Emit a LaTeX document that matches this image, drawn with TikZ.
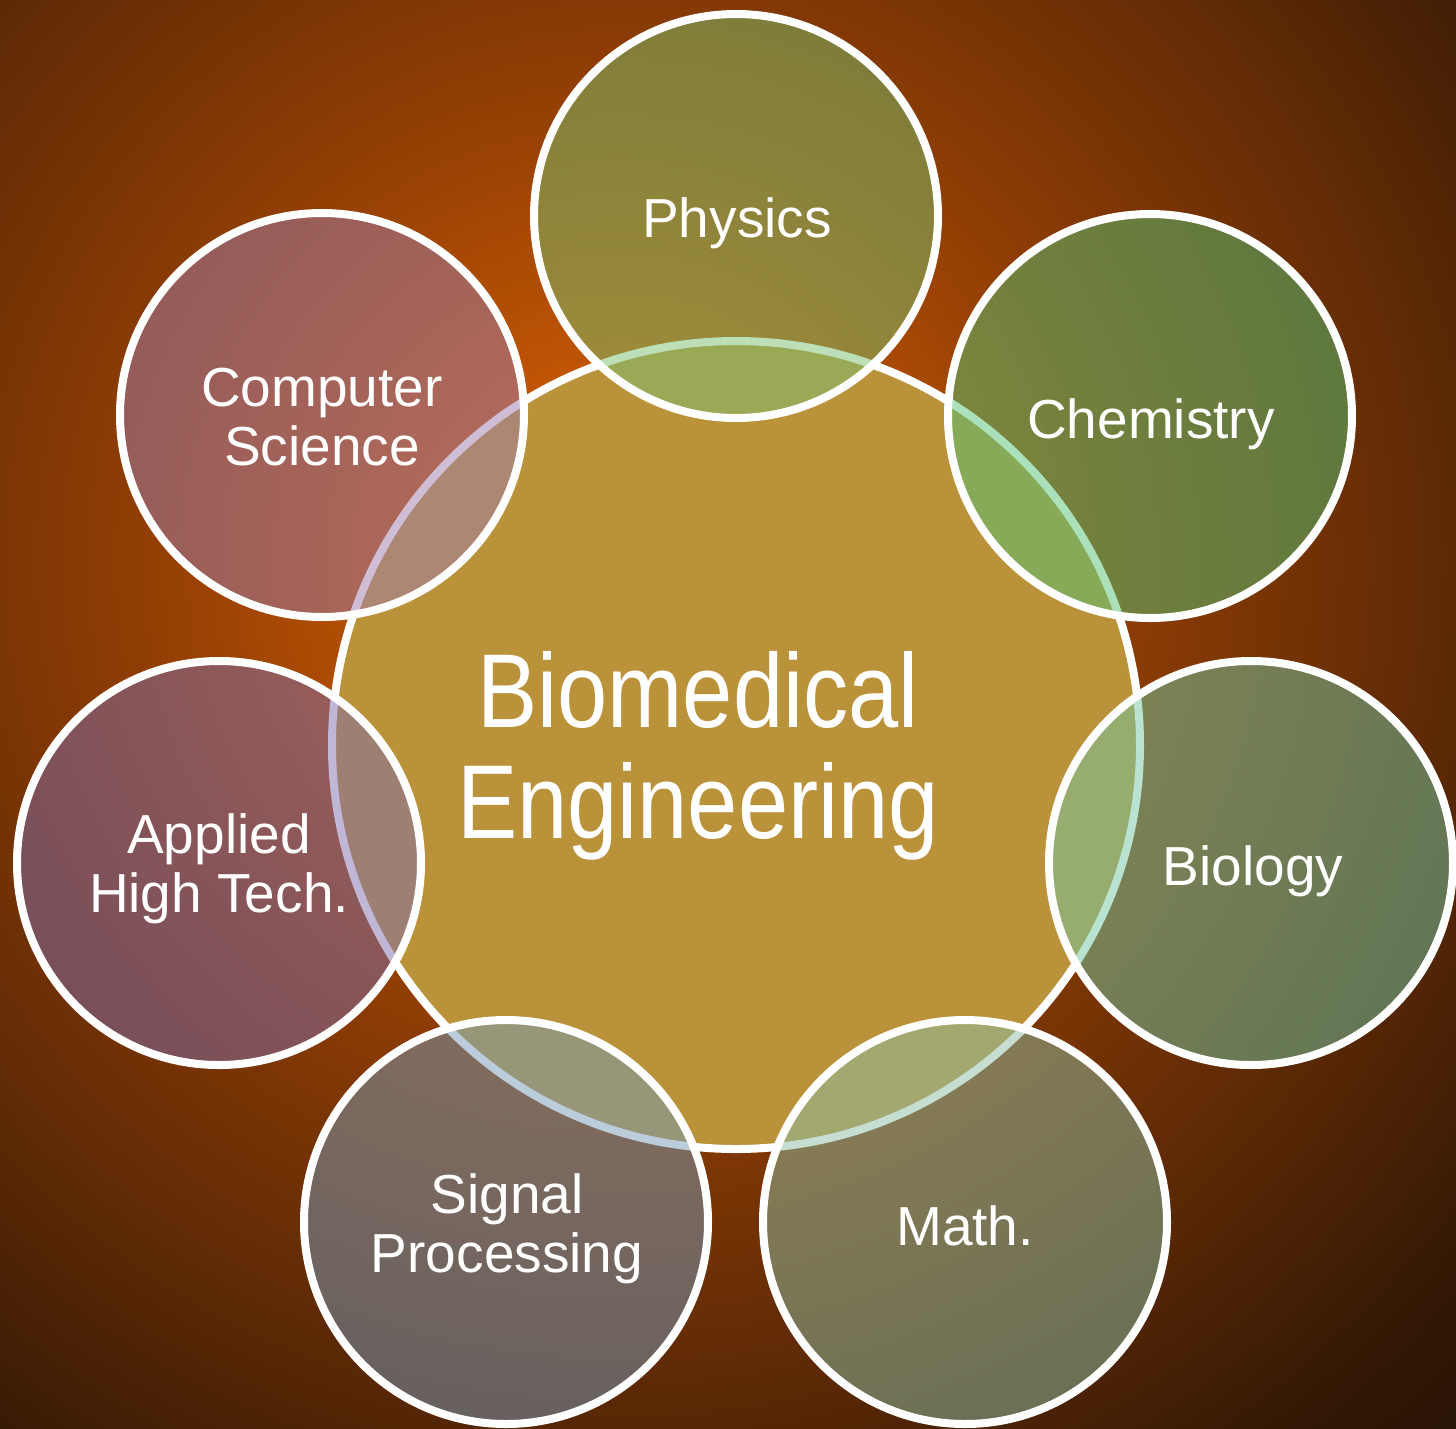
\documentclass[tikz,border=0pt]{standalone}
\usepackage{fontspec}
\setmainfont{Liberation Sans}
\usepackage{graphicx}
\definecolor{bgdark}{RGB}{35,17,4}
\definecolor{glowA}{RGB}{205,92,5}
\definecolor{glowB}{RGB}{190,84,4}
\definecolor{glowC}{RGB}{145,62,4}
\definecolor{glowD}{RGB}{90,40,5}
\definecolor{glowE}{RGB}{50,24,5}
\definecolor{bmefill}{RGB}{186,146,57}
\definecolor{physF}{RGB}{123,193,113}
\definecolor{chemF}{RGB}{86,195,119}
\definecolor{bioF}{RGB}{115,200,165}
\definecolor{mathF}{RGB}{140,190,165}
\definecolor{sigF}{RGB}{120,155,185}
\definecolor{applF}{RGB}{130,110,175}
\definecolor{csF}{RGB}{160,125,175}
\pgfdeclareradialshading{bgglow}{\pgfpoint{0bp}{0bp}}{color(0bp)=(glowA); color(3.85bp)=(glowB); color(9.2bp)=(glowC); color(16.3bp)=(glowD); color(21.2bp)=(glowE); color(25bp)=(bgdark); color(50bp)=(bgdark)}
\begin{document}
\begin{tikzpicture}[x=1pt,y=-1pt,
  hub/.style={circle, inner sep=0pt, minimum size=808pt, line width=8pt, draw=white, fill=bmefill},
  sat/.style={circle, inner sep=0pt, minimum size=404pt, line width=8pt, draw=white, draw opacity=1, fill opacity=0.5},
  lbl/.style={text=white, font=\fontsize{55}{59}\selectfont, align=center, anchor=base, inner sep=0pt},
  biglbl/.style={lbl, font=\fontsize{105}{111}\selectfont}]
\useasboundingbox (0,0) rectangle (1456,1428);
\fill[bgdark] (-10,-10) rectangle (1466,1438);
\begin{scope}
  \clip (-10,-10) rectangle (1466,1438);
  \shade[shading=bgglow] (620,560) circle[radius=1300];
\end{scope}
\node[hub] (bme) at (736,745) {};
\node[sat, fill=physF] (phys) at (736,216) {};
\node[sat, fill=chemF] (chem) at (1150,416) {};
\node[sat, fill=bioF] (bio) at (1251,863) {};
\node[sat, fill=mathF] (math) at (965,1222) {};
\node[sat, fill=sigF] (sig) at (506,1222) {};
\node[sat, fill=applF] (appl) at (219,863) {};
\node[sat, fill=csF] (cs) at (322,415) {};
\node[biglbl] (bmeT) at (698,838) {\scalebox{0.86}[1]{Biomedical}\\\scalebox{0.86}[1]{Engineering}};
\node[lbl] (physT) at (737,237) {Physics};
\node[lbl] (chemT) at (1151,438) {Chemistry};
\node[lbl] (bioT) at (1253,885) {Biology};
\node[lbl] (mathT) at (965,1245) {Math.};
\node[lbl] (sigT) at (507,1272) {Signal\\Processing};
\node[lbl] (applT) at (219,912) {Applied\\High Tech.};
\node[lbl] (csT) at (322,465) {Computer\\Science};
\end{tikzpicture}
\end{document}
